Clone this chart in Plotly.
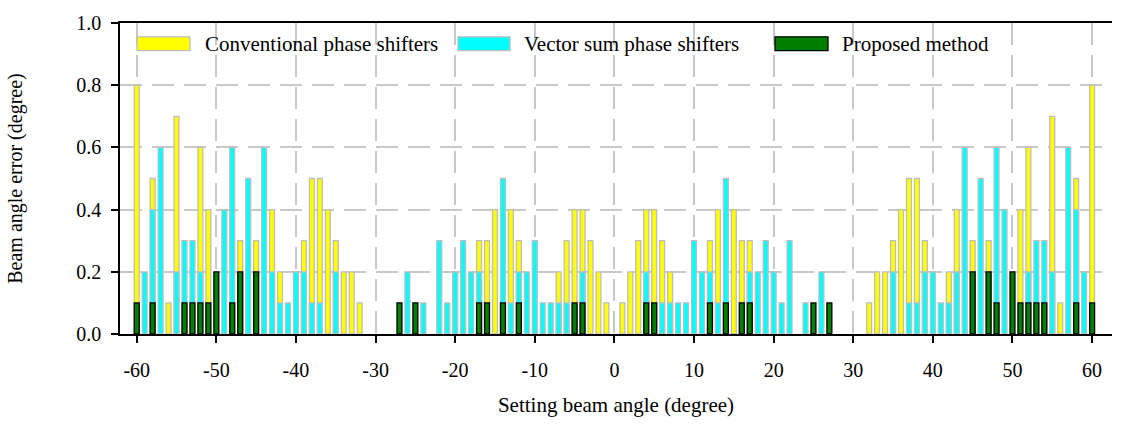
import plotly.graph_objects as go

angles = list(range(-60, 61))

conventional = (
    [0.8, None, 0.5, None, 0.1, 0.7, None, None, 0.6, 0.4]          # -60..-51
    + [None, None, None, 0.3, None, 0.3, None, 0.4, 0.2, None]      # -50..-41
    + [None, 0.3, 0.5, 0.5, 0.4, 0.3, 0.2, 0.2, 0.1, None]          # -40..-31
    + [None] * 10                                                   # -30..-21
    + [None, None, None, 0.3, 0.3, 0.4, None, 0.4, 0.3, None]       # -20..-11
    + [None, None, None, 0.2, 0.3, 0.4, 0.4, 0.3, 0.2, 0.1]         # -10..-1
    + [None]                                                        # 0
    + [0.1, 0.2, 0.3, 0.4, 0.4, 0.3, 0.2, None, None, None]         # 1..10
    + [None, 0.3, 0.4, None, 0.4, 0.3, 0.3, None, None, None]       # 11..20
    + [None] * 10                                                   # 21..30
    + [None, 0.1, 0.2, 0.2, 0.3, 0.4, 0.5, 0.5, 0.3, None]          # 31..40
    + [None, 0.2, 0.4, None, 0.3, None, 0.3, None, None, None]      # 41..50
    + [0.4, 0.6, None, None, 0.7, 0.1, None, 0.5, None, 0.8]        # 51..60
)

vector_sum = (
    [None, 0.2, 0.4, 0.6, None, 0.2, 0.3, 0.3, 0.2, None]
    + [None, 0.4, 0.6, None, 0.5, None, 0.6, 0.2, 0.1, 0.1]
    + [0.2, 0.2, 0.1, 0.1, None, 0.2, None, None, None, None]
    + [None, None, None, None, 0.2, None, 0.1, None, 0.3, 0.1]
    + [0.2, 0.3, 0.2, 0.2, None, None, 0.5, 0.1, 0.2, 0.2]
    + [0.3, 0.1, 0.1, 0.1, 0.1, None, 0.2, None, None, None]
    + [None]
    + [None, None, None, 0.2, None, 0.1, 0.1, 0.1, 0.1, 0.3]
    + [0.2, 0.2, 0.1, 0.5, None, None, 0.2, 0.2, 0.3, 0.2]
    + [0.1, 0.3, None, 0.1, None, 0.2, None, None, None, None]
    + [None, None, None, None, 0.2, None, 0.1, 0.1, 0.2, 0.2]
    + [0.1, 0.1, 0.2, 0.6, None, 0.5, None, 0.6, 0.4, None]
    + [None, 0.2, 0.3, 0.3, 0.2, None, 0.6, 0.4, 0.2, None]
)

proposed = (
    [0.1, None, 0.1, None, None, None, 0.1, 0.1, 0.1, 0.1]
    + [0.2, None, 0.1, 0.2, None, 0.2, None, None, None, None]
    + [None] * 10
    + [None, None, None, 0.1, None, 0.1, None, None, None, None]
    + [None, None, None, 0.1, 0.1, None, 0.1, None, 0.1, None]
    + [None, None, None, None, None, 0.1, 0.1, None, None, None]
    + [None]
    + [None, None, None, 0.1, 0.1, None, None, None, None, None]
    + [None, 0.1, None, 0.1, None, 0.1, 0.1, None, None, None]
    + [None, None, None, None, 0.1, None, 0.1, None, None, None]
    + [None] * 10
    + [None, None, None, None, 0.2, None, 0.2, 0.1, None, 0.2]
    + [0.1, 0.1, 0.1, 0.1, None, None, None, 0.1, None, 0.1]
)

series_names = ["Conventional phase shifters", "Vector sum phase shifters", "Proposed method"]
x_tick_vals = [-60, -50, -40, -30, -20, -10, 0, 10, 20, 30, 40, 50, 60]
x_tick_text = ["-60", "-50", "-40", "-30", "-20", "-10", "0", "10", "20", "30", "40", "50", "60"]
y_tick_vals = [0.0, 0.2, 0.4, 0.6, 0.8, 1.0]
y_tick_text = ["0.0", "0.2", "0.4", "0.6", "0.8", "1.0"]

FONT = "Liberation Serif, Times New Roman, serif"
W, H = 1127, 425
ML, MR, MT, MB = 120, 15, 19, 90

styles = [
    dict(color="#FFFF00", line="#BEBEBE"),
    dict(color="#00FFFF", line="#BEBEBE"),
    dict(color="#007F00", line="#000000"),
]

fig = go.Figure()
for name, vals, st in zip(series_names, [conventional, vector_sum, proposed], styles):
    fig.add_trace(go.Bar(
        x=angles, y=vals, name=name, width=0.62, opacity=1,
        marker=dict(color=st["color"], line=dict(color=st["line"], width=1.3)),
        showlegend=False,
    ))

# manual legend (paper coordinates computed from pixel positions)
pw = W - ML - MR
ph = H - MT - MB

def px(x):
    return (x - ML) / pw

def py(y):
    return (H - MB - y) / ph

legend_items = [(137, 190, 203), (458, 510, 522), (775, 828, 840)]
shapes = []
annotations = []
for (x0, x1, tx), name, st in zip(legend_items, series_names, styles):
    shapes.append(dict(type="rect", xref="paper", yref="paper",
                       x0=px(x0), x1=px(x1), y0=py(47), y1=py(33),
                       fillcolor=st["color"], line=dict(color=st["line"], width=1.3)))
    annotations.append(dict(xref="paper", yref="paper", x=px(tx), y=py(40),
                            xanchor="left", yanchor="middle", showarrow=False,
                            text=name, font=dict(family=FONT, size=21, color="#000")))

fig.update_layout(
    width=W, height=H,
    margin=dict(l=ML, r=MR, t=MT, b=MB),
    barmode="overlay",
    plot_bgcolor="white", paper_bgcolor="white",
    font=dict(family=FONT, size=20, color="#000"),
    shapes=shapes, annotations=annotations,
    xaxis=dict(
        range=[-62.1, 62.5],
        tickvals=x_tick_vals, ticktext=x_tick_text,
        ticks="outside", ticklen=7, tickwidth=1.5, tickcolor="#000",
        ticklabelstandoff=10,
        showline=True, linecolor="#000", linewidth=1.5, mirror=True,
        showgrid=True, gridcolor="#C8C8C8", gridwidth=1.5, griddash="22px,10px",
        zeroline=False,
        title=dict(text="Setting beam angle (degree)", font=dict(family=FONT, size=21), standoff=18),
        tickfont=dict(family=FONT, size=20),
    ),
    yaxis=dict(
        range=[0, 1.0],
        tickvals=y_tick_vals, ticktext=y_tick_text,
        ticks="outside", ticklen=7, tickwidth=1.5, tickcolor="#000",
        ticklabelstandoff=6,
        showline=True, linecolor="#000", linewidth=1.5,
        showgrid=True, gridcolor="#C8C8C8", gridwidth=1.5, griddash="22px,10px",
        zeroline=False,
        title=dict(text="Beam angle error (degree)", font=dict(family=FONT, size=20), standoff=48),
        tickfont=dict(family=FONT, size=20),
    ),
)

fig.write_html("out.html")
